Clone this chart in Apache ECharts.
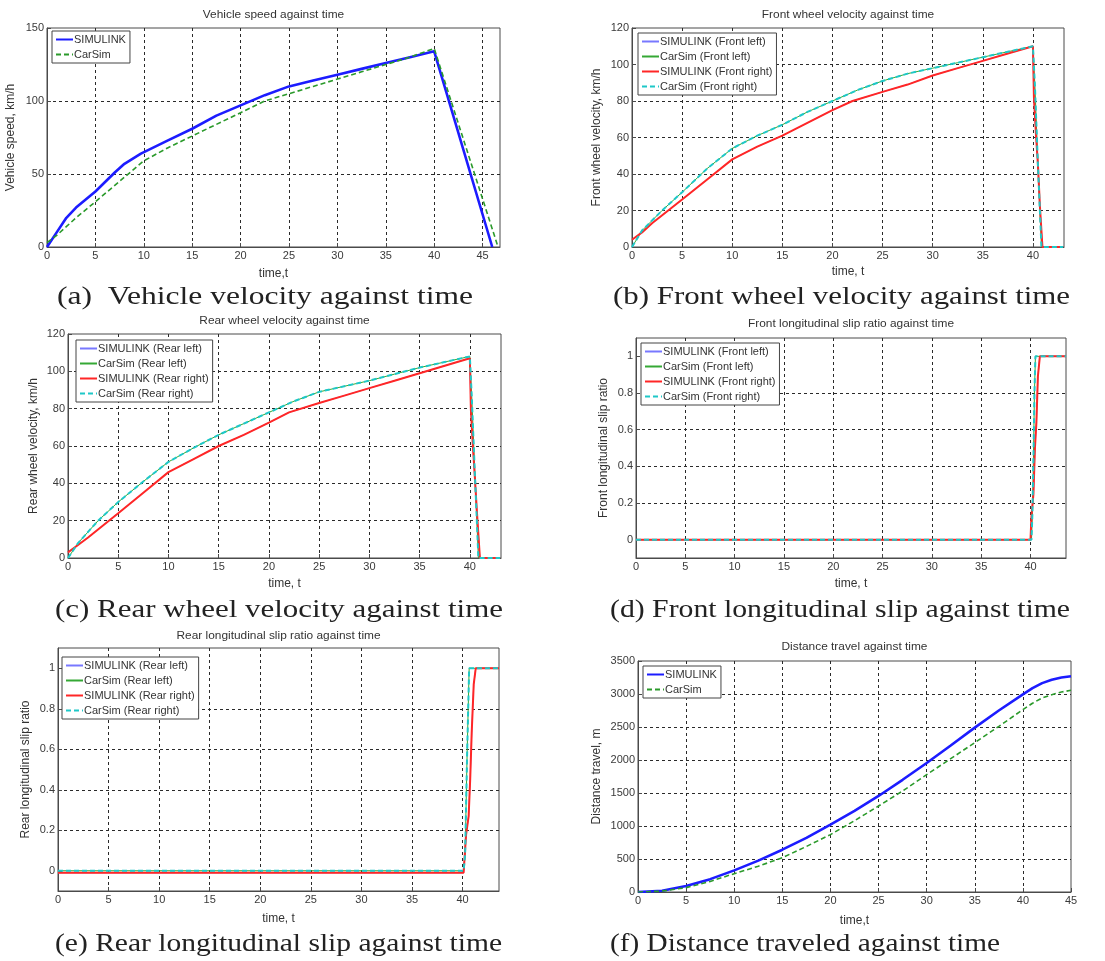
<!DOCTYPE html>
<html>
<head>
<meta charset="utf-8">
<script src="https://cdn.jsdelivr.net/npm/echarts@6/dist/echarts.min.js"></script>
<style>
  html, body { margin: 0; padding: 0; background: #fff; }
  #chart { width: 1105px; height: 961px; }
</style>
</head>
<body>
<div id="chart"></div>
<script>
// ---- (a) vehicle speed, km/h ----
const tA_sim = [0, 1, 2, 3, 5, 7, 8, 9.7, 12.5, 15, 17.5, 20, 22.5, 25, 27.5, 30, 32.5, 35, 37.5, 40, 46];
const vA_sim = [0, 10, 20, 27, 38, 51, 57, 64, 73, 81, 90, 97, 104, 110, 114, 118, 122, 126, 130, 134, 0];
const tA_car = [0, 1, 3, 5, 7.5, 10, 12.5, 15, 17.5, 20, 22.5, 25, 27.5, 30, 32.5, 35, 37.5, 40, 46.6];
const vA_car = [3, 8, 20, 31, 45, 59, 68, 76, 84, 92, 100, 105, 110, 115, 120, 125, 130, 136, 0];

// ---- (b) front wheel velocity, km/h ----
const tB_car = [0, 1, 3, 5, 7.5, 10, 12.5, 15, 17.5, 20, 22.5, 25, 27.5, 30, 32.5, 35, 37.5, 40, 40.2, 40.5, 40.85, 43];
const vB_car = [0, 9, 20, 30, 43, 54, 61, 67, 74, 80, 86, 91, 95, 98, 101, 104, 107, 110, 88, 45, 0, 0];
const tB_sim = [0, 1, 2, 5, 7.5, 10, 12.5, 15, 17.5, 20, 22, 25, 27.5, 30, 32.5, 35, 37.5, 40, 40.1, 40.3, 40.5, 40.7, 40.95, 43];
const vB_sim = [4, 8, 13, 26, 37, 48, 55, 61, 68, 75, 80, 85, 89, 94, 98, 102, 106, 110, 82, 62, 45, 22, 0, 0];

// ---- (c) rear wheel velocity, km/h ----
const tC_car = [0, 1, 3, 5, 7.5, 10, 12.5, 15, 17.5, 20, 22.5, 25, 27.5, 30, 32.5, 35, 37.5, 40, 40.2, 40.5, 40.85, 43];
const vC_car = [0, 8, 20, 30, 41, 51.5, 59, 66, 72, 78, 84, 89, 92, 95, 98.5, 102, 105, 108, 85, 45, 0, 0];
const tC_sim = [0, 1, 2, 5, 7.5, 10, 12.5, 15, 17.5, 20, 22, 25, 27.5, 30, 32.5, 35, 37.5, 40, 40.1, 40.3, 40.5, 40.7, 41, 43];
const vC_sim = [3, 7, 11, 24, 35, 46, 53, 60, 66, 72.5, 78, 83, 87, 91, 95, 99, 103, 107, 80, 60, 43, 25, 0, 0];

// ---- (d) front longitudinal slip ratio ----
const tD_car = [0, 40.1, 40.2, 40.3, 40.4, 40.5, 43.6];
const sD_car = [0, 0, 0.15, 0.45, 0.8, 1, 1];
const tD_sim = [0, 40, 40.1, 40.3, 40.45, 40.6, 40.75, 40.95, 43.6];
const sD_sim = [0, 0, 0.13, 0.25, 0.5, 0.64, 0.89, 1, 1];

// ---- (e) rear longitudinal slip ratio ----
const tE_car = [0, 40.1, 40.25, 40.45, 40.65, 43.6];
const sE_car = [0, 0, 0.08, 0.58, 1, 1];
const tE_sim = [0, 40.1, 40.35, 40.6, 40.75, 40.9, 41.1, 41.3, 43.6];
const sE_sim = [-0.01, -0.01, 0.18, 0.27, 0.45, 0.68, 0.92, 1, 1];

// ---- (f) distance travelled, m ----
const tF = [0, 2.5, 5, 7.5, 10, 12.5, 15, 17.5, 20, 22.5, 25, 27.5, 30, 32.5, 35, 37.5, 40, 41, 42, 43, 44, 45];
const dF_sim = [0, 20, 91, 195, 328, 475, 641, 820, 1020, 1230, 1455, 1700, 1955, 2220, 2490, 2750, 2995, 3090, 3165, 3215, 3250, 3268];
const dF_car = [0, 14, 66, 160, 278, 390, 520, 690, 869, 1080, 1303, 1530, 1778, 2020, 2263, 2510, 2763, 2860, 2940, 2990, 3030, 3056];

// ---- axis ticks ----
const slipTicks = [0, 0.2, 0.4, 0.6, 0.8, 1];

// ---- text ----
const plotTitles = [
  'Vehicle speed against time', 'Front wheel velocity against time',
  'Rear wheel velocity against time', 'Front longitudinal slip ratio against time',
  'Rear longitudinal slip ratio against time', 'Distance travel against time'
];
const yNames = [
  'Vehicle speed, km/h', 'Front wheel velocity, km/h', 'Rear wheel velocity, km/h',
  'Front longitudinal slip ratio', 'Rear longitudinal slip ratio', 'Distance travel, m'
];
const xNames = ['time,t', 'time, t', 'time, t', 'time, t', 'time, t', 'time,t'];
const captions = [
  '(a)  Vehicle velocity against time', '(b) Front wheel velocity against time',
  '(c) Rear wheel velocity against time', '(d) Front longitudinal slip against time',
  '(e) Rear longitudinal slip against time', '(f) Distance traveled against time'
];
const twoNames = ['SIMULINK', 'CarSim'];
const frontNames = ['SIMULINK (Front left)', 'CarSim (Front left)', 'SIMULINK (Front right)', 'CarSim (Front right)'];
const rearNames = ['SIMULINK (Rear left)', 'CarSim (Rear left)', 'SIMULINK (Rear right)', 'CarSim (Rear right)'];

const pts = (t, v) => t.map((x, i) => [x, v[i]]);

// panel layout: plot box in pixels
const boxes = [
  { l: 47, t: 28, w: 453, h: 219 },
  { l: 632, t: 28, w: 432, h: 219 },
  { l: 68, t: 334, w: 433, h: 224 },
  { l: 636, t: 338, w: 430, h: 220 },
  { l: 58, t: 648, w: 441, h: 243 },
  { l: 638, t: 661, w: 433, h: 231 }
];
const titleY = [15, 15, 321, 324, 636, 647];
const yNameGap = [30, 29, 28, 26, 26, 35];
const xNameGap = [21, 19, 20, 20, 22, 23];
// caption: left x, middle y, right x
const captionPos = [[57, 297, 473], [613, 297, 1070], [55, 610, 503], [610, 610, 1070], [55, 944, 502], [610, 944, 1000]];
const legendPos = [[52, 31], [638, 33], [76, 340], [641, 343], [62, 657], [643, 666]];

const xRanges = [[0, 46.8], [0, 43.1], [0, 43.1], [0, 43.6], [0, 43.6], [0, 45]];
const yAxesDef = [
  { min: 0, max: 150, interval: 50 },
  { min: 0, max: 120, interval: 20 },
  { min: 0, max: 120, interval: 20 },
  { min: -0.1, max: 1.1, custom: slipTicks },
  { min: -0.1, max: 1.1, custom: slipTicks },
  { min: 0, max: 3500, interval: 500 }
];

const sansFont = 'Liberation Sans, Arial, sans-serif';
const serifFont = '"Liberation Serif", "Times New Roman", serif';
const frameColor = '#4a4a4a';
const gridLine = { type: [3, 3], color: '#2a2a2a', width: 1 };
const labelStyle = { color: '#3a3a3a', fontSize: 11, fontFamily: sansFont };

// line styles
const stThickBlue = { color: '#1c1cff', width: 2.6, type: 'solid' };
const stGreenDash = { color: '#2b9a2b', width: 1.6, type: [5, 3] };
const stLeftSim = { color: '#7878ff', width: 1, type: 'solid' };
const stLeftCar = { color: '#35a835', width: 1, type: 'solid' };
const stRightSim = { color: '#ff2626', width: 2, type: 'solid' };
const stRightCar = { color: '#1ec8c8', width: 2, type: [5, 3] };

// text width helper for the wide caption lettering
const measureCtx = document.createElement('canvas').getContext('2d');
function textWidth(str, font) { measureCtx.font = font; return measureCtx.measureText(str).width; }

const grids = [], xAxes = [], yAxes = [], series = [], legends = [], graphics = [];

boxes.forEach((b, i) => {
  grids.push({ left: b.l, top: b.t, width: b.w, height: b.h, show: true,
    borderColor: frameColor, borderWidth: 1, backgroundColor: '#fff' });
  xAxes.push({
    type: 'value', gridIndex: i, min: xRanges[i][0], max: xRanges[i][1], interval: 5,
    name: xNames[i], nameLocation: 'middle', nameGap: xNameGap[i],
    nameTextStyle: { color: '#333', fontSize: 12, fontFamily: sansFont },
    axisLine: { show: true, onZero: false, lineStyle: { color: frameColor } },
    axisTick: { show: true, inside: true, length: 4, lineStyle: { color: frameColor } },
    axisLabel: Object.assign({ margin: 3, showMaxLabel: i === 5,
      formatter: v => (Math.abs(v / 5 - Math.round(v / 5)) < 1e-6 ? String(Math.round(v)) : '') }, labelStyle),
    splitLine: { show: true, showMinLine: false, showMaxLine: false, lineStyle: gridLine }
  });
  const yd = yAxesDef[i];
  const ya = {
    type: 'value', gridIndex: i, min: yd.min, max: yd.max,
    name: yNames[i], nameLocation: 'middle', nameGap: yNameGap[i],
    nameTextStyle: { color: '#333', fontSize: 12, fontFamily: sansFont },
    axisLine: { show: true, onZero: false, lineStyle: { color: frameColor } },
    axisTick: { show: true, inside: true, length: 4, lineStyle: { color: frameColor } },
    axisLabel: Object.assign({ margin: 3, formatter: v => String(Math.round(v * 1000) / 1000) }, labelStyle),
    splitLine: { show: true, showMinLine: false, showMaxLine: false, lineStyle: gridLine }
  };
  if (yd.custom) {
    ya.axisTick.customValues = yd.custom;
    ya.axisLabel.customValues = yd.custom;
  } else {
    ya.interval = yd.interval;
  }
  yAxes.push(ya);

  graphics.push({
    type: 'text', x: b.l + b.w / 2, y: titleY[i], scaleX: 1.08, silent: true,
    style: { text: plotTitles[i], font: '11px ' + sansFont, fill: '#333',
      align: 'center', verticalAlign: 'middle', textAlign: 'center', textVerticalAlign: 'middle' }
  });
  const capFont = '25px ' + serifFont;
  const cp = captionPos[i];
  graphics.push({
    type: 'text', x: cp[0], y: cp[1], silent: true,
    scaleX: (cp[2] - cp[0]) / textWidth(captions[i], capFont),
    style: { text: captions[i], font: capFont, fill: '#222',
      align: 'left', verticalAlign: 'middle', textAlign: 'left', textVerticalAlign: 'middle' }
  });
});

function addLine(name, gi, data, ls, z) {
  series.push({ name, type: 'line', xAxisIndex: gi, yAxisIndex: gi, data,
    symbol: 'none', lineStyle: ls, itemStyle: { color: ls.color }, z: z || 2, silent: true, animation: false });
}

// (a)
addLine(twoNames[0], 0, pts(tA_sim, vA_sim), stThickBlue, 3);
addLine(twoNames[1], 0, pts(tA_car, vA_car), stGreenDash, 4);
// (b)
addLine(frontNames[0], 1, pts(tB_sim, vB_sim), stLeftSim, 2);
addLine(frontNames[1], 1, pts(tB_car, vB_car), stLeftCar, 3);
addLine(frontNames[2], 1, pts(tB_sim, vB_sim), stRightSim, 4);
addLine(frontNames[3], 1, pts(tB_car, vB_car), stRightCar, 5);
// (c)
addLine(rearNames[0], 2, pts(tC_sim, vC_sim), stLeftSim, 2);
addLine(rearNames[1], 2, pts(tC_car, vC_car), stLeftCar, 3);
addLine(rearNames[2], 2, pts(tC_sim, vC_sim), stRightSim, 4);
addLine(rearNames[3], 2, pts(tC_car, vC_car), stRightCar, 5);
// (d)
addLine(frontNames[0], 3, pts(tD_sim, sD_sim), stLeftSim, 2);
addLine(frontNames[1], 3, pts(tD_car, sD_car), stLeftCar, 3);
addLine(frontNames[2], 3, pts(tD_sim, sD_sim), stRightSim, 4);
addLine(frontNames[3], 3, pts(tD_car, sD_car), stRightCar, 5);
// (e)
addLine(rearNames[0], 4, pts(tE_sim, sE_sim), stLeftSim, 2);
addLine(rearNames[1], 4, pts(tE_car, sE_car), stLeftCar, 3);
addLine(rearNames[2], 4, pts(tE_sim, sE_sim), stRightSim, 4);
addLine(rearNames[3], 4, pts(tE_car, sE_car), stRightCar, 5);
// (f)
addLine(twoNames[0], 5, pts(tF, dF_sim), stThickBlue, 3);
addLine(twoNames[1], 5, pts(tF, dF_car), stGreenDash, 4);

const legendNames = [twoNames, frontNames, rearNames, frontNames, rearNames, twoNames];
legendNames.forEach((names, i) => {
  legends.push({
    data: names, orient: 'vertical', left: legendPos[i][0], top: legendPos[i][1],
    selectedMode: false, backgroundColor: '#fff', borderColor: '#444', borderWidth: 1,
    padding: [3, 4, 3, 3], itemGap: 4, itemWidth: 17, itemHeight: 10,
    itemStyle: { opacity: 0 },
    textStyle: { color: '#333', fontSize: 11, fontFamily: sansFont, padding: [0, 0, 0, -4] },
    z: 10
  });
});

const chart = echarts.init(document.getElementById('chart'), null, { renderer: 'canvas' });
chart.setOption({
  animation: false,
  backgroundColor: '#fff',
  grid: grids,
  xAxis: xAxes,
  yAxis: yAxes,
  legend: legends,
  series: series,
  graphic: graphics
});
</script>
</body>
</html>
